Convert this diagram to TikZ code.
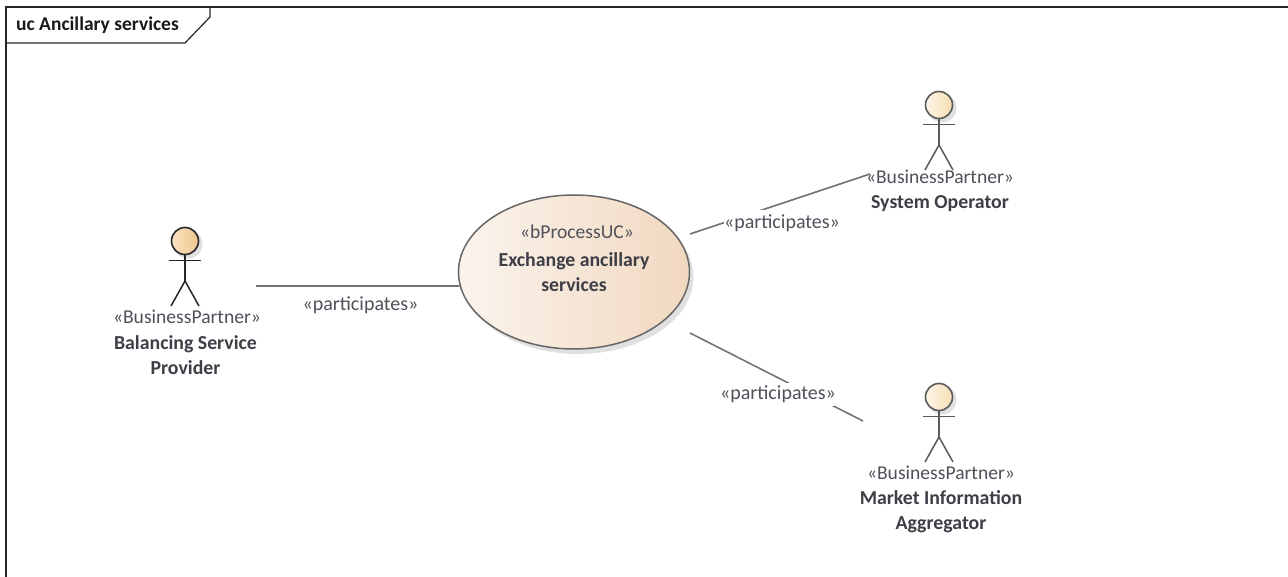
\documentclass[tikz,border=0pt]{standalone}
\usepackage{fontspec}
\setmainfont{Carlito}
\usetikzlibrary{shapes.geometric,shadows}
\definecolor{txt}{HTML}{3E3E46}
\definecolor{stereo}{HTML}{50505A}
\definecolor{conn}{HTML}{747474}
\definecolor{actorgrey}{HTML}{5A5A5A}
\definecolor{ucl}{HTML}{FBF4EE}
\definecolor{ucr}{HTML}{F1D8C0}
\definecolor{hal}{HTML}{F9E3C4}
\definecolor{har}{HTML}{EFC68C}
\definecolor{hbl}{HTML}{FDF5E8}
\definecolor{hbr}{HTML}{F8DDB4}
\tikzset{
  x=1pt,y=-1pt,
  frameline/.style={draw=black!85,line width=1.2pt},
  conn/.style={draw=conn,line width=1.6pt},
  connlabel/.style={fill=white,inner sep=0pt,text=stereo,font=\fontsize{20}{22}\selectfont,minimum width=116pt},
  nametext/.style={align=center,text=txt,inner sep=0pt,font=\fontsize{19.8}{25}\selectfont\bfseries},
  stereotext/.style={text=stereo,inner sep=0pt,font=\fontsize{19.6}{22}\selectfont},
  head/.style={circle,draw=#1,line width=1.6pt,minimum size=27pt,inner sep=0pt},
  limb/.style={draw=#1,line width=1.5pt},
  softshadow/.style={fill=black,opacity=.12,draw=none}
}
\newcommand{\stickman}[6]{% name, x, y head centre, colour, left, right
  \fill[softshadow] (#2+3,#3+3) circle[radius=14.5pt];
  \node[head=#4,left color=#5,right color=#6] (#1) at (#2,#3) {};
  \coordinate (#1hip) at (#2,#3+40);
  \draw[limb=#4] (#1.south) -- (#1hip);
  \draw[limb=#4] (#2-16,#3+19.5) -- (#2+16,#3+19.5);
  \draw[limb=#4] (#2-14,#3+65) -- (#1hip) -- (#2+14,#3+65);
}
\begin{document}
\begin{tikzpicture}
\useasboundingbox (0,0) rectangle (1288,577);
\fill[white] (0,0) rectangle (1288,577);
% frame
\draw[frameline] (6,577) -- (6,7) -- (1288,7);
\draw[frameline] (6,43) -- (185,43) -- (210,17) -- (210,7);
\node[anchor=west,inner sep=0pt,text=black!90,font=\fontsize{19.5}{22}\selectfont\bfseries] (title) at (16,25) {uc Ancillary services};
% use case
\fill[softshadow] (578,277) ellipse[x radius=115.5pt,y radius=77pt];
\node[ellipse,draw=black!60,line width=1.5pt,minimum width=231pt,minimum height=154pt,inner sep=0pt,left color=ucl,right color=ucr] (uc) at (574,272) {};
\node[stereotext] (ucs) at (577,232) {«bProcessUC»};
\node[nametext] (ucn) at (574,272) {Exchange ancillary\\services};
% actors
\stickman{bsp}{185}{241}{black!85}{hal}{har}
\stickman{so}{939}{105}{actorgrey}{hbl}{hbr}
\stickman{mia}{939}{397}{actorgrey}{hbl}{hbr}
\node[stereotext] (bsps) at (187,317) {«BusinessPartner»};
\node[nametext] (bspn) at (185.5,355) {Balancing Service\\Provider};
\node[stereotext] (sos) at (940,177) {«BusinessPartner»};
\node[nametext] (son) at (940,203.5) {System Operator};
\node[stereotext] (mias) at (941,473) {«BusinessPartner»};
\node[nametext] (mian) at (941,511.5) {Market Information\\Aggregator};
% connectors
\coordinate (bspport) at (256,286);
\coordinate (soport) at (870,174);
\coordinate (miaport) at (863,421);
\coordinate (ucne) at (690,234);
\coordinate (ucse) at (690,333);
\draw[conn] (bspport) -- (uc.187);
\draw[conn] (ucne) -- (soport);
\draw[conn] (ucse) -- (miaport);
\node[connlabel,minimum height=14pt] (l1) at (360.5,305.5) {«participates»};
\node[connlabel,minimum height=26pt] (l2) at (782,223) {«participates»};
\node[connlabel,minimum height=23pt] (l3) at (778,394) {«participates»};
\end{tikzpicture}
\end{document}
